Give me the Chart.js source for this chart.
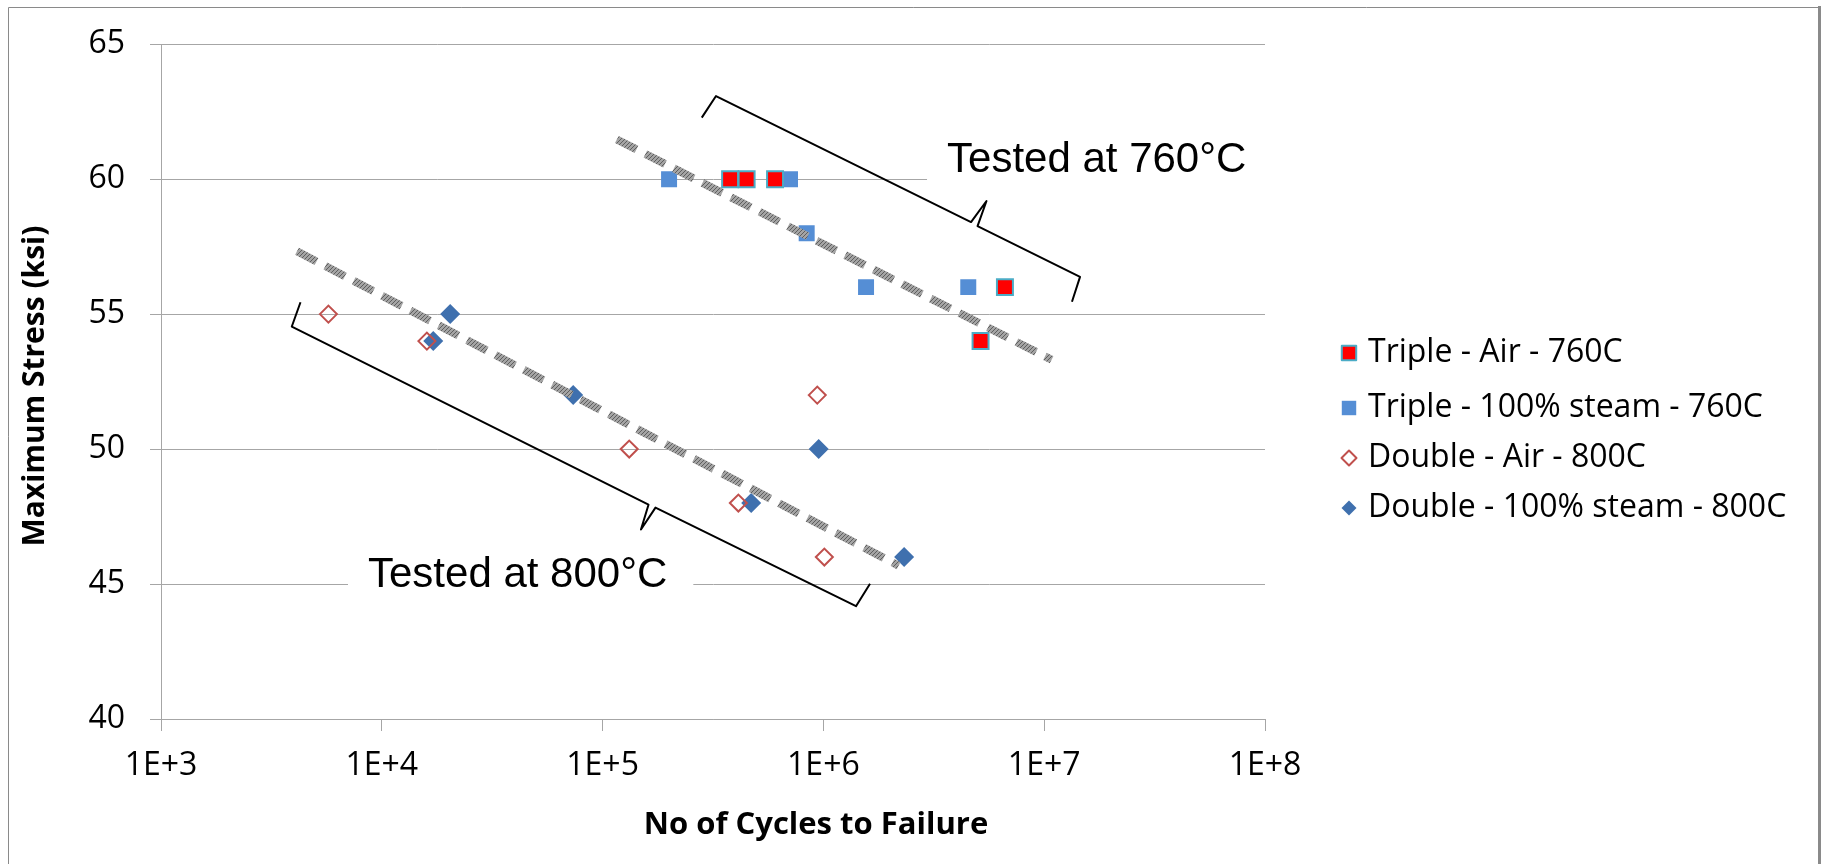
<!DOCTYPE html>
<html>
<head>
<meta charset="utf-8">
<script src="https://cdn.jsdelivr.net/npm/chart.js@4.4.0/dist/chart.umd.min.js"></script>
<style>
  html, body { margin: 0; padding: 0; background: #fff; }
  canvas { display: block; }
</style>
</head>
<body>
<canvas id="chart" width="1822" height="864"></canvas>
<script>
// values (cycles to failure, max stress in ksi)
const tripleAirCycles = [3.78e5, 4.49e5, 6.04e5, 5.15e6, 6.64e6];
const tripleAirStress = [60, 60, 60, 54, 56];
const tripleSteamCycles = [2.0e5, 7.06e5, 8.4e5, 1.56e6, 4.53e6];
const tripleSteamStress = [60, 60, 58, 56, 56];
const doubleAirCycles = [5.73e3, 1.6e4, 1.32e5, 4.12e5, 9.38e5, 1.01e6];
const doubleAirStress = [55, 54, 50, 48, 52, 46];
const doubleSteamCycles = [2.04e4, 1.71e4, 7.36e4, 4.71e5, 9.52e5, 2.32e6];
const doubleSteamStress = [55, 54, 52, 48, 50, 46];

// trend lines (end points)
const trend760Cycles = [1.16e5, 1.08e7];
const trend760Stress = [61.47, 53.31];
const trend800Cycles = [4.13e3, 2.19e6];
const trend800Stress = [57.33, 45.68];

const seriesNames = ['Triple - Air - 760C', 'Triple - 100% steam - 760C', 'Double - Air - 800C', 'Double - 100% steam - 800C'];
const xTickValues = [1e3, 1e4, 1e5, 1e6, 1e7, 1e8];
const xTickLabels = ['1E+3', '1E+4', '1E+5', '1E+6', '1E+7', '1E+8'];
const yTickValues = [40, 45, 50, 55, 60, 65];
const xTitle = 'No of Cycles to Failure';
const yTitle = 'Maximum Stress (ksi)';
const note760 = 'Tested at 760°C';
const note800 = 'Tested at 800°C';

const gridColor = '#a6a6a6';
const font = 'Open Sans';

function pts(xs, ys) {
  return xs.map((x, i) => ({ x: x, y: ys[i] }));
}

// grey hatched stroke like the excel dashed trendline
function hatch() {
  const c = document.createElement('canvas');
  c.width = 4; c.height = 4;
  const g = c.getContext('2d');
  g.fillStyle = '#a4a4a4';
  g.fillRect(0, 0, 4, 4);
  g.fillStyle = '#5e5e5e';
  for (let i = 0; i < 4; i++) g.fillRect(i, 3 - i, 1, 1);
  return g.createPattern(c, 'repeat');
}

// brace outlines in data units (cycles, ksi)
const brace760 = [[2.813e5, 62.28], [3.263e5, 63.08], [4.662e6, 58.41], [5.478e6, 59.19], [4.99e6, 58.26], [1.453e7, 56.38], [1.336e7, 55.46]];
const brace800 = [[4.283e3, 55.44], [3.912e3, 54.54], [1.614e5, 47.94], [1.492e5, 47.02], [1.736e5, 47.83], [1.405e6, 44.18], [1.626e6, 45.01]];
const noteAnchors = [[3.63e6, 60.25], [8.66e3, 44.88]];

const decor = {
  id: 'decor',
  beforeDraw(chart) {
    const ctx = chart.ctx;
    ctx.save();
    ctx.fillStyle = '#fff';
    ctx.fillRect(0, 0, chart.width, chart.height);
    ctx.restore();
  },
  afterDraw(chart) {
    const ctx = chart.ctx;
    const xs = chart.scales.x, ys = chart.scales.y;
    ctx.save();

    // note boxes with text
    ctx.font = '42px "Liberation Sans", Arial, sans-serif';
    ctx.textBaseline = 'alphabetic';
    ctx.textAlign = 'left';
    [note760, note800].forEach((t, i) => {
      const px = xs.getPixelForValue(noteAnchors[i][0]);
      const py = ys.getPixelForValue(noteAnchors[i][1]);
      const w = ctx.measureText(t).width;
      ctx.fillStyle = '#fff';
      ctx.fillRect(px - 20, py - 42, w + 46, 60);
      ctx.fillStyle = '#000';
      ctx.fillText(t, px, py);
    });

    // braces
    ctx.strokeStyle = '#000';
    ctx.lineWidth = 2;
    ctx.lineJoin = 'round';
    [brace760, brace800].forEach(b => {
      ctx.beginPath();
      b.forEach((p, i) => {
        const px = xs.getPixelForValue(p[0]);
        const py = ys.getPixelForValue(p[1]);
        if (i === 0) ctx.moveTo(px, py); else ctx.lineTo(px, py);
      });
      ctx.stroke();
    });

    // axis titles
    ctx.fillStyle = '#000';
    ctx.font = 'bold 31px "' + font + '"';
    ctx.textAlign = 'center';
    ctx.textBaseline = 'alphabetic';
    ctx.fillText(xTitle, 816, 834);
    ctx.save();
    ctx.translate(35, 386);
    ctx.rotate(-Math.PI / 2);
    ctx.textBaseline = 'middle';
    ctx.font = 'bold 30px "' + font + '"';
    ctx.fillText(yTitle, 0, 0);
    ctx.restore();

    // legend
    const rows = [353, 408, 458, 508];
    ctx.font = '32px "' + font + '"';
    ctx.textAlign = 'left';
    ctx.textBaseline = 'middle';
    seriesNames.forEach((name, i) => {
      const ds = chart.data.datasets[i];
      const isRect = ds.pointStyle === 'rect';
      ctx.fillStyle = ds.backgroundColor;
      ctx.strokeStyle = ds.borderColor;
      ctx.lineWidth = ds.borderWidth;
      Chart.helpers.drawPoint(ctx, {
        pointStyle: ds.pointStyle,
        radius: isRect ? 10.2 : 7.5,
        rotation: 0,
        borderWidth: ds.borderWidth
      }, 1349, rows[i]);
      ctx.fillStyle = '#000';
      ctx.fillText(name, 1368, rows[i]);
    });

    // outer frame
    ctx.strokeStyle = '#8a8a8a';
    ctx.lineWidth = 1;
    ctx.beginPath();
    ctx.moveTo(8.5, 870);
    ctx.lineTo(8.5, 7.5);
    ctx.lineTo(1819, 7.5);
    ctx.stroke();
    ctx.lineWidth = 3;
    ctx.beginPath();
    ctx.moveTo(1819.5, 6);
    ctx.lineTo(1819.5, 870);
    ctx.stroke();

    ctx.restore();
  }
};

const trendStroke = hatch();

new Chart(document.getElementById('chart').getContext('2d'), {
  type: 'scatter',
  data: {
    datasets: [
      {
        label: seriesNames[0],
        data: pts(tripleAirCycles, tripleAirStress),
        pointStyle: 'rect',
        pointRadius: 11.3,
        backgroundColor: '#ff0000',
        borderColor: '#4bacc6',
        borderWidth: 2
      },
      {
        label: seriesNames[1],
        data: pts(tripleSteamCycles, tripleSteamStress),
        pointStyle: 'rect',
        pointRadius: 11.3,
        backgroundColor: '#558ed5',
        borderColor: '#558ed5',
        borderWidth: 0
      },
      {
        label: seriesNames[2],
        data: pts(doubleAirCycles, doubleAirStress),
        pointStyle: 'rectRot',
        pointRadius: 8.5,
        backgroundColor: 'rgba(255,255,255,0)',
        borderColor: '#c0504d',
        borderWidth: 2
      },
      {
        label: seriesNames[3],
        data: pts(doubleSteamCycles, doubleSteamStress),
        pointStyle: 'rectRot',
        pointRadius: 10,
        backgroundColor: '#3f70ae',
        borderColor: '#3f70ae',
        borderWidth: 0
      },
      {
        label: 'trend 760',
        data: pts(trend760Cycles, trend760Stress),
        showLine: true,
        pointRadius: 0,
        borderColor: trendStroke,
        borderWidth: 8,
        borderDash: [22, 10],
        borderCapStyle: 'butt',
        order: -1
      },
      {
        label: 'trend 800',
        data: pts(trend800Cycles, trend800Stress),
        showLine: true,
        pointRadius: 0,
        borderColor: trendStroke,
        borderWidth: 8,
        borderDash: [22, 10],
        borderCapStyle: 'butt',
        order: -1
      }
    ]
  },
  options: {
    responsive: false,
    animation: false,
    devicePixelRatio: 1,
    layout: { padding: { top: 41, right: 557, bottom: 0, left: 0 } },
    plugins: {
      legend: { display: false },
      tooltip: { enabled: false }
    },
    scales: {
      x: {
        type: 'logarithmic',
        position: 'bottom',
        min: 1e3,
        max: 1e8,
        afterBuildTicks: s => { s.ticks = xTickValues.map(v => ({ value: v })); },
        afterFit: s => { s.height = 145; },
        grid: { drawOnChartArea: false, color: gridColor, tickLength: 12, lineWidth: 1 },
        border: { color: gridColor, width: 1 },
        ticks: {
          color: '#000',
          font: { family: font, size: 32 },
          padding: 16,
          autoSkip: false,
          maxRotation: 0,
          callback: (v, i) => xTickLabels[i]
        }
      },
      y: {
        min: 40,
        max: 65,
        afterBuildTicks: s => { s.ticks = yTickValues.map(v => ({ value: v })); },
        afterFit: s => { s.width = 161; },
        grid: { color: gridColor, tickLength: 11, lineWidth: 1 },
        border: { color: gridColor, width: 1 },
        ticks: {
          color: '#000',
          font: { family: font, size: 32 },
          padding: 25,
          callback: v => v
        }
      }
    }
  },
  plugins: [decor]
});
</script>
</body>
</html>
